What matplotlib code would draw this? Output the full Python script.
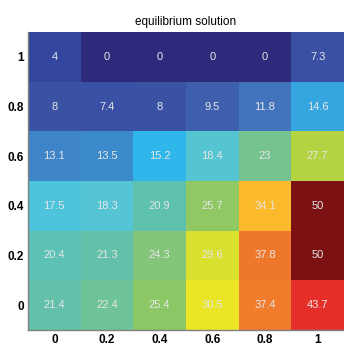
import numpy as np
import matplotlib.pyplot as plt
from matplotlib.colors import LinearSegmentedColormap

# grid labels
x_labels = ["0", "0.2", "0.4", "0.6", "0.8", "1"]
y_labels = ["1", "0.8", "0.6", "0.4", "0.2", "0"]  # top row first

# values, one list per row from top to bottom
row_1 = [4, 0, 0, 0, 0, 7.3]
row_08 = [8, 7.4, 8, 9.5, 11.8, 14.6]
row_06 = [13.1, 13.5, 15.2, 18.4, 23, 27.7]
row_04 = [17.5, 18.3, 20.9, 25.7, 34.1, 50]
row_02 = [20.4, 21.3, 24.3, 29.6, 37.8, 50]
row_0 = [21.4, 22.4, 25.4, 30.5, 37.4, 43.7]

vmin, vmax = 0, 50

# colour ramp, dark indigo -> cyan -> green -> yellow -> dark red
stops = [
    (0, "#2d2a7b"), (4, "#3446a0"), (8, "#3b53a5"), (11.8, "#4275bd"),
    (13.5, "#3c8acb"), (15.2, "#2fb9ec"), (18, "#55c6d9"), (21, "#5ec1ae"),
    (23, "#78c490"), (25.5, "#8dc866"), (27.7, "#b4d443"), (30.5, "#ebe825"),
    (34.1, "#fbbb2d"), (37.6, "#f07a2c"), (43.7, "#e8302a"), (50, "#7b1113"),
]
cmap = LinearSegmentedColormap.from_list(
    "eq", [((v - vmin) / (vmax - vmin), c) for v, c in stops])


def main():
    data = np.array([row_1, row_08, row_06, row_04, row_02, row_0])

    fig = plt.figure(figsize=(3.44, 3.45), dpi=100)
    ax = fig.add_axes([28 / 344, 15 / 345, 316 / 344, 298 / 345])
    ax.imshow(data, cmap=cmap, vmin=vmin, vmax=vmax, aspect="auto",
              interpolation="nearest")

    for i in range(data.shape[0]):
        for j in range(data.shape[1]):
            ax.text(j, i, f"{data[i, j]:g}", ha="center", va="center",
                    color="#e6e6e6", fontsize=8, family="Liberation Sans")

    ax.set_xticks(range(len(x_labels)))
    ax.set_xticklabels(x_labels)
    ax.set_yticks(range(len(y_labels)))
    ax.set_yticklabels(y_labels)
    ax.tick_params(length=0, labelsize=8.5, pad=3)
    for lab in ax.get_xticklabels() + ax.get_yticklabels():
        lab.set_fontweight("bold")
        lab.set_family("Liberation Sans")

    for side in ["top", "right"]:
        ax.spines[side].set_visible(False)
    for side in ["left", "bottom"]:
        ax.spines[side].set_color("#808080")
        ax.spines[side].set_linewidth(1.0)

    ax.set_title("equilibrium solution", fontsize=8.5, family="Liberation Sans",
                 pad=5)

    fig.savefig("out.png", dpi=100)


main()
